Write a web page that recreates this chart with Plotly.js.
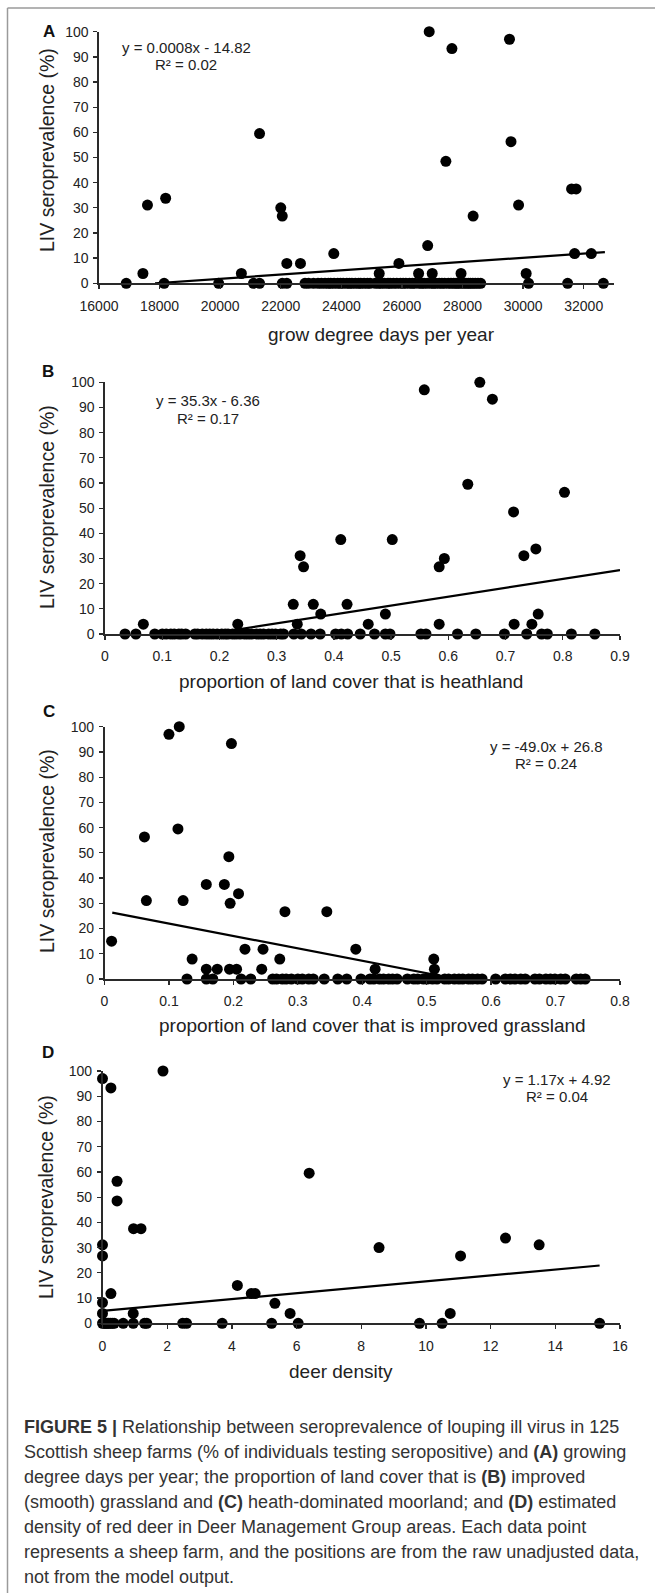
<!DOCTYPE html>
<html>
<head>
<meta charset="utf-8">
<script src="https://cdn.plot.ly/plotly-3.0.1.min.js"></script>
<style>
html,body{margin:0;padding:0;background:#fff;}
#chart{width:655px;height:1593px;}
</style>
</head>
<body>
<div id="chart"></div>
<script>
// ---------------- DATA ----------------
// Panel A: grow degree days per year
const aX = [26900, 27650, 29550, 21300, 29600, 27450, 31600, 31750, 18200, 17600, 29850, 22000, 22050, 28350, 26850, 23750, 31700, 32250, 22200, 22650, 25900, 17450, 20700, 25250, 26550, 27000, 27950, 30100];
const aY = [100, 93.3, 97, 59.5, 56.3, 48.5, 37.5, 37.5, 33.8, 31.1, 31.1, 30, 26.7, 26.7, 15, 11.8, 11.8, 11.8, 7.9, 7.9, 7.9, 3.9, 3.9, 3.9, 3.9, 3.9, 3.9, 3.9];
const aZeroX = [16900, 18150, 19950, 21100, 21300, 22050, 22200, 22800, 22920, 23080, 23230, 23340, 23460, 23570, 23650, 23760, 23880, 23970, 24060, 24180, 24270, 24350, 24460, 24570, 24640, 24750, 24860, 24950, 25120, 25230, 25310, 25420, 25540, 25610, 25720, 25830, 25950, 26040, 26130, 26250, 26340, 26420, 26560, 26650, 26730, 26840, 26960, 27040, 27120, 27230, 27320, 27410, 27530, 27620, 27710, 27790, 27860, 27940, 28030, 28110, 28190, 28260, 28340, 28420, 28510, 28600, 30180, 31470, 32650];
const aTrendX = [17850, 32700];
const aTrendY = [0, 12.4];

// Panel B: proportion of land cover that is heathland
const bX = [0.558, 0.655, 0.677, 0.634, 0.803, 0.714, 0.412, 0.502, 0.341, 0.347, 0.584, 0.593, 0.732, 0.753, 0.329, 0.364, 0.423, 0.377, 0.490, 0.757, 0.067, 0.232, 0.336, 0.460, 0.584, 0.715, 0.746];
const bY = [97, 100, 93.3, 59.5, 56.3, 48.5, 37.5, 37.5, 31.1, 26.7, 26.7, 30, 31.1, 33.8, 11.8, 11.8, 11.8, 7.9, 7.9, 7.9, 3.9, 3.9, 3.9, 3.9, 3.9, 3.9, 3.9];
const bZeroX = [0.035, 0.054, 0.087, 0.100, 0.107, 0.115, 0.121, 0.129, 0.134, 0.141, 0.157, 0.162, 0.170, 0.177, 0.183, 0.189, 0.196, 0.204, 0.210, 0.215, 0.223, 0.229, 0.236, 0.244, 0.250, 0.256, 0.265, 0.271, 0.277, 0.286, 0.292, 0.298, 0.307, 0.312, 0.330, 0.343, 0.360, 0.376, 0.403, 0.413, 0.424, 0.446, 0.471, 0.490, 0.498, 0.552, 0.561, 0.616, 0.648, 0.698, 0.737, 0.763, 0.773, 0.815, 0.856];
const bTrendX = [0.18, 0.9];
const bTrendY = [0, 25.4];

// Panel C: proportion of land cover that is improved grassland
const cX = [0.100, 0.116, 0.197, 0.114, 0.062, 0.193, 0.158, 0.186, 0.208, 0.065, 0.122, 0.195, 0.280, 0.345, 0.011, 0.218, 0.246, 0.390, 0.136, 0.272, 0.511, 0.158, 0.175, 0.194, 0.205, 0.244, 0.420, 0.512];
const cY = [97, 100, 93.3, 59.5, 56.3, 48.5, 37.5, 37.5, 33.8, 31.1, 31.1, 30, 26.7, 26.7, 15, 11.8, 11.8, 11.8, 7.9, 7.9, 7.9, 3.9, 3.9, 3.9, 3.9, 3.9, 3.9, 3.9];
const cZeroX = [0.128, 0.158, 0.168, 0.212, 0.227, 0.261, 0.267, 0.276, 0.282, 0.290, 0.300, 0.307, 0.317, 0.324, 0.341, 0.362, 0.376, 0.398, 0.412, 0.418, 0.427, 0.433, 0.441, 0.447, 0.454, 0.470, 0.480, 0.486, 0.495, 0.501, 0.509, 0.516, 0.528, 0.534, 0.543, 0.550, 0.556, 0.565, 0.571, 0.579, 0.586, 0.607, 0.622, 0.630, 0.637, 0.646, 0.653, 0.668, 0.675, 0.685, 0.692, 0.699, 0.708, 0.715, 0.732, 0.739, 0.746];
const cTrendX = [0.012, 0.547];
const cTrendY = [26.3, 0];

// Panel D: deer density
const dX = [0, 0.26, 1.87, 0.45, 0.45, 0.96, 1.19, 0, 0, 6.39, 8.55, 11.07, 12.46, 13.5, 4.17, 4.6, 4.72, 0.26, 0, 5.33, 5.8, 10.75, 0.95, 0];
const dY = [97, 93.3, 100, 56.3, 48.5, 37.5, 37.5, 31.1, 26.7, 59.5, 30, 26.7, 33.8, 31.1, 15, 11.8, 11.8, 11.8, 8.2, 7.9, 3.9, 3.9, 3.9, 3.9];
const dZeroX = [0, 0.05, 0.1, 0.14, 0.19, 0.24, 0.3, 0.36, 0.64, 0.95, 1.3, 1.37, 2.48, 2.6, 3.7, 5.23, 6.05, 9.8, 10.5, 15.37];
const dTrendX = [0, 15.37];
const dTrendY = [4.92, 22.9];

const xTitles = ["grow degree days per year", "proportion of land cover that is heathland", "proportion of land cover that is improved grassland", "deer density"];
const yTitle = "LIV seroprevalence (%)";
const panelLetters = ["A", "B", "C", "D"];
const eqText = ["y = 0.0008x - 14.82", "y = 35.3x - 6.36", "y = -49.0x + 26.8", "y = 1.17x + 4.92"];
const r2Text = ["R² = 0.02", "R² = 0.17", "R² = 0.24", "R² = 0.04"];
const xRanges = [[16000, 33000], [0, 0.9], [0, 0.8], [0, 16]];
const xDticks = [2000, 0.1, 0.1, 2];

const captionLines = [
  "<b>FIGURE 5 |</b> Relationship between seroprevalence of louping ill virus in 125",
  "Scottish sheep farms (% of individuals testing seropositive) and <b>(A)</b> growing",
  "degree days per year; the proportion of land cover that is <b>(B)</b> improved",
  "(smooth) grassland and <b>(C)</b> heath-dominated moorland; and <b>(D)</b> estimated",
  "density of red deer in Deer Management Group areas. Each data point",
  "represents a sheep farm, and the positions are from the raw unadjusted data,",
  "not from the model output."
];

// ---------------- LAYOUT (pixels) ----------------
const W = 655, H = 1593;
const FONT = "Liberation Sans, Arial, Helvetica, sans-serif";
const boxes = [
  {x0: 99, x1: 614, top: 31.7, bot: 283.3},
  {x0: 105, x1: 620, top: 382.3, bot: 634},
  {x0: 104.5, x1: 620, top: 726.7, bot: 979},
  {x0: 102.5, x1: 620, top: 1071, bot: 1323.3}
];
const letterPos = [[49, 31.7], [48, 371.7], [49, 711.7], [48, 1052.7]];
const eqPos = [[186, 47.7], [208, 401], [546, 746], [557, 1079]];
const xTitlePos = [[381, 335], [351, 681.7], [372, 1025], [341, 1371.7]];
const yTitlePos = [[47, 150], [47, 507], [47, 851], [46, 1197]];

function px(x) { return x / W; }
function py(y) { return 1 - y / H; }
function ann(text, x, y, opt) {
  return Object.assign({text: text, x: px(x), y: py(y), xref: 'paper', yref: 'paper',
    xanchor: 'center', yanchor: 'middle', showarrow: false,
    font: {family: FONT, size: 14, color: '#222'}}, opt || {});
}

const sets = [
  [aX, aY, aZeroX, aTrendX, aTrendY],
  [bX, bY, bZeroX, bTrendX, bTrendY],
  [cX, cY, cZeroX, cTrendX, cTrendY],
  [dX, dY, dZeroX, dTrendX, dTrendY]
];

const traces = [];
const layout = {
  width: W, height: H,
  margin: {l: 0, r: 0, t: 0, b: 0},
  paper_bgcolor: '#fff', plot_bgcolor: '#fff',
  showlegend: false,
  font: {family: FONT, color: '#222'},
  annotations: [],
  shapes: [
    {type: 'line', xref: 'paper', yref: 'paper', x0: px(7.5), x1: px(7.5), y0: py(8), y1: py(H), line: {color: '#9a9a9a', width: 1.5}},
    {type: 'line', xref: 'paper', yref: 'paper', x0: px(7.5), x1: 1, y0: py(8), y1: py(8), line: {color: '#9a9a9a', width: 1.5}}
  ]
};

sets.forEach(function (s, i) {
  const n = i === 0 ? '' : String(i + 1);
  const xa = 'x' + n, ya = 'y' + n;
  const zeros = s[2].map(function () { return 0; });
  const allX = s[0].concat(s[2]);
  const allY = s[1].concat(zeros);
  traces.push({
    type: 'scatter', mode: 'markers', x: allX, y: allY, xaxis: xa, yaxis: ya,
    cliponaxis: false,
    marker: {size: 11, color: '#000'}, hoverinfo: 'skip'
  });
  traces.push({
    type: 'scatter', mode: 'lines', x: s[3], y: s[4], xaxis: xa, yaxis: ya,
    line: {color: '#000', width: 2.2}, hoverinfo: 'skip'
  });
  const b = boxes[i];
  const axCommon = {
    showline: true, linecolor: '#2a2a2a', linewidth: 1.6, showgrid: false, zeroline: false,
    ticks: 'outside', ticklen: 4, tickwidth: 1.3, tickcolor: '#2a2a2a',
    tickfont: {family: FONT, size: 14, color: '#222'}, fixedrange: true
  };
  layout['xaxis' + n] = Object.assign({}, axCommon, {
    domain: [px(b.x0), px(b.x1)], range: xRanges[i], tick0: xRanges[i][0], dtick: xDticks[i],
    tickformat: i === 0 ? 'd' : '', anchor: ya, ticklabelstandoff: 5
  });
  layout['yaxis' + n] = Object.assign({}, axCommon, {
    domain: [py(b.bot), py(b.top)], range: [0, 100], dtick: 10, anchor: xa,
    ticklabelstandoff: 2
  });
  layout.annotations.push(ann('<b>' + panelLetters[i] + '</b>', letterPos[i][0], letterPos[i][1], {font: {family: FONT, size: 17, color: '#111'}}));
  layout.annotations.push(ann(eqText[i], eqPos[i][0], eqPos[i][1], {font: {family: FONT, size: 15, color: '#222'}}));
  layout.annotations.push(ann(r2Text[i], eqPos[i][0], eqPos[i][1] + 17.3, {font: {family: FONT, size: 15, color: '#222'}}));
  layout.annotations.push(ann(xTitles[i], xTitlePos[i][0], xTitlePos[i][1], {font: {family: FONT, size: 19, color: '#222'}}));
  layout.annotations.push(ann(yTitle, yTitlePos[i][0], yTitlePos[i][1], {textangle: -90, font: {family: FONT, size: 19.5, color: '#222'}}));
});

captionLines.forEach(function (t, k) {
  layout.annotations.push(ann(t, 21.7, 1426.7 + 25 * k, {xanchor: 'left', font: {family: FONT, size: 18, color: '#333'}}));
});

Plotly.newPlot('chart', traces, layout, {staticPlot: true, displayModeBar: false});
</script>
</body>
</html>
